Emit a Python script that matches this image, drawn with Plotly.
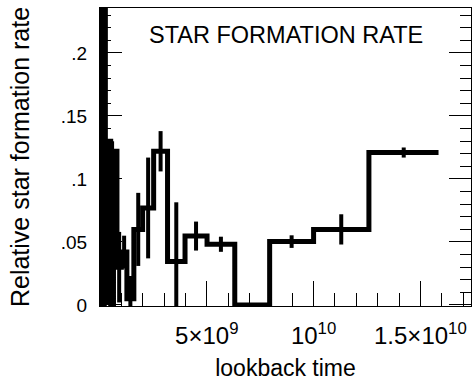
import plotly.graph_objects as go

# Bin edges of lookback time (Gyr) and relative star formation rate per bin
bin_edges_gyr = [0.01, 0.1, 0.126, 0.158, 0.2, 0.251, 0.316, 0.398, 0.501, 0.631,
                 0.794, 1.0, 1.259, 1.585, 1.995, 2.512, 3.162, 3.981, 5.012,
                 6.310, 7.943, 10.0, 12.59, 15.85]
sfr_values = [0.30, 0.0, 0.30, 0.0, 0.30, 0.02, 0.01, 0.13, 0.0, 0.122,
              0.030, 0.042, 0.005, 0.060, 0.077, 0.122, 0.0345, 0.0547, 0.0482,
              0.0, 0.0503, 0.060, 0.121]
sfr_errors = [0.0, 0.01, 0.0, 0.01, 0.0, 0.01, 0.01, 0.0, 0.13, 0.0,
              0.028, 0.013, 0.018, 0.029, 0.040, 0.016, 0.047, 0.0115, 0.006,
              0.0, 0.005, 0.012, 0.004]

y_tick_vals = [0, 0.05, 0.1, 0.15, 0.2]
y_tick_text = ["0", ".05", ".1", ".15", ".2"]
x_tick_vals = [5e9, 1e10, 1.5e10]
x_tick_text = ["5\u00d710<sup>9</sup>", "10<sup>10</sup>", "1.5\u00d710<sup>10</sup>"]

edges_yr = [e * 1e9 for e in bin_edges_gyr]
centers_yr = [(edges_yr[i] + edges_yr[i + 1]) / 2 for i in range(len(sfr_values))]

font_family = "Liberation Sans, Arial, Helvetica, sans-serif"

fig = go.Figure()
# histogram-style step line
fig.add_trace(go.Scatter(
    x=edges_yr,
    y=sfr_values + [sfr_values[-1]],
    mode="lines",
    line=dict(shape="hv", color="black", width=5),
    showlegend=False,
    hoverinfo="skip",
))
# error bars at bin centres
fig.add_trace(go.Scatter(
    x=centers_yr,
    y=sfr_values,
    mode="markers",
    marker=dict(size=1, color="black", opacity=0),
    error_y=dict(type="data", array=sfr_errors, visible=True,
                 color="black", thickness=4, width=0),
    showlegend=False,
    hoverinfo="skip",
))

fig.add_annotation(
    text="STAR FORMATION RATE",
    xref="paper", yref="paper", x=0.5, y=0.91,
    xanchor="center", yanchor="middle", showarrow=False,
    font=dict(family=font_family, size=23.5, color="black"),
)

fig.update_layout(
    width=472, height=385,
    margin=dict(l=100, r=1, t=8, b=79),
    paper_bgcolor="white", plot_bgcolor="white",
    font=dict(family=font_family, color="black"),
    showlegend=False,
)
fig.update_xaxes(
    range=[0, 1.737e10],
    showgrid=False, zeroline=False,
    showline=True, linecolor="black", linewidth=1, mirror=True,
    ticks="inside", ticklen=25, tickwidth=1, tickcolor="black",
    tickvals=x_tick_vals, ticktext=x_tick_text,
    tickfont=dict(family=font_family, size=24, color="black"),
    ticklabelstandoff=8,
    minor=dict(dtick=1e9, tick0=0, ticks="inside", ticklen=13, tickcolor="black", tickwidth=1, showgrid=False),
    title=dict(text="lookback time", standoff=12,
               font=dict(family=font_family, size=23, color="black")),
)
fig.update_yaxes(
    range=[-0.0008, 0.2357],
    showgrid=False, zeroline=False,
    showline=True, linecolor="black", linewidth=1, mirror="ticks",
    ticks="inside", ticklen=22, tickwidth=1, tickcolor="black",
    tickvals=y_tick_vals, ticktext=y_tick_text,
    tickfont=dict(family=font_family, size=19, color="black"),
    ticklabelstandoff=8,
    minor=dict(dtick=0.01, tick0=0, ticks="inside", ticklen=11, tickcolor="black", tickwidth=1, showgrid=False),
    title=dict(text="Relative star formation rate", standoff=24,
               font=dict(family=font_family, size=25, color="black")),
)

fig.write_html("out.html")
